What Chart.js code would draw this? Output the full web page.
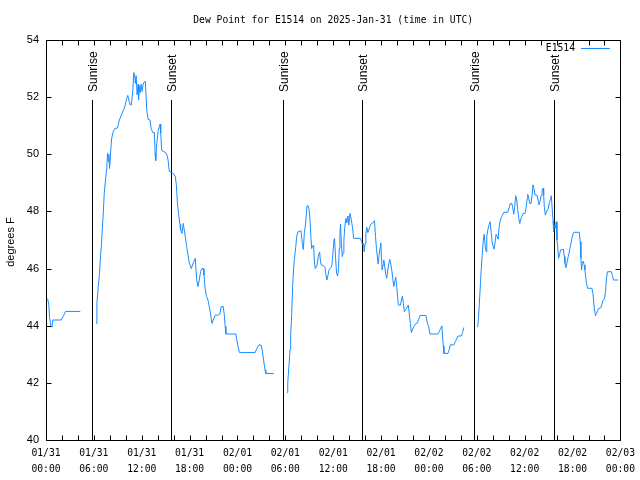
<!DOCTYPE html>
<html>
<head>
<meta charset="utf-8">
<title>Dew Point for E1514</title>
<script src="https://cdn.jsdelivr.net/npm/chart.js"></script>
<style>
    html, body { margin: 0; padding: 0; background: #fff; }
    canvas { display: block; }
</style>
<script>
    // hours since 2025-01-31 00:00 UTC, dew point in degrees F
    const hoursA = [0.2, 0.35, 0.45, 0.6, 0.75, 0.85, 1.9, 2.2, 2.45, 4.3];
    const dewA = [44.95, 44.75, 44.3, 44.0, 43.95, 44.2, 44.2, 44.35, 44.5, 44.5];

    const hoursB = [6.3, 6.38, 6.55, 6.71, 6.8, 6.96, 7.05, 7.2, 7.3, 7.46, 7.63, 7.71, 7.8, 7.88, 7.96, 8.05, 8.2, 8.38, 8.63, 8.96,
        9.2, 9.46, 9.71, 9.88, 10.13, 10.25, 10.38, 10.55, 10.7, 10.88, 11.0, 11.1, 11.2, 11.3, 11.42, 11.55, 11.6, 11.7, 11.8, 11.92,
        12.05, 12.17, 12.34, 12.45, 12.63, 12.8, 13.05, 13.17, 13.38, 13.59, 13.67, 13.75, 13.88, 14.05, 14.2, 14.3, 14.38, 14.5, 14.7, 14.96,
        15.17, 15.3, 15.46, 15.7, 15.96, 16.2, 16.34, 16.46, 16.63, 16.8, 16.88, 17.05, 17.21, 17.3, 17.46, 17.63, 17.8, 17.96, 18.21, 18.46,
        18.71, 18.88, 19.05, 19.21, 19.38, 19.55, 19.71, 19.8, 19.96, 20.13, 20.3, 20.46, 20.63, 20.8, 20.96, 21.21, 21.55, 21.8, 21.96, 22.21,
        22.34, 22.46, 22.55, 23.8, 23.92, 24.09, 24.25, 26.21, 26.38, 26.55, 26.71, 26.96, 27.13, 27.3, 27.46, 27.55, 28.55];
    const dewB = [44.08, 44.78, 45.37, 45.83, 46.3, 46.88, 47.35, 48.05, 48.63, 49.1, 49.57, 50.03, 49.75, 50.0, 49.5, 49.8, 50.5, 50.76, 50.9, 50.92,
        51.2, 51.38, 51.55, 51.67, 51.96, 52.06, 51.9, 51.73, 51.73, 52.25, 52.86, 52.8, 52.48, 52.75, 52.08, 52.45, 51.9, 52.4, 52.15, 52.45,
        52.2, 52.45, 52.54, 52.55, 51.55, 51.22, 51.2, 50.91, 50.76, 50.76, 50.03, 49.78, 50.38, 50.8, 50.97, 51.06, 50.74, 50.13, 50.1, 50.07,
        49.97, 49.8, 49.4, 49.37, 49.33, 49.23, 48.93, 48.34, 47.88, 47.55, 47.35, 47.23, 47.58, 47.4, 47.12, 46.77, 46.48, 46.2, 46.0, 46.2,
        46.36, 45.63, 45.37, 45.6, 45.9, 46.0, 46.0, 45.77, 45.27, 45.02, 44.9, 44.67, 44.41, 44.08, 44.2, 44.37, 44.37, 44.41, 44.67, 44.67,
        44.4, 43.97, 43.71, 43.71, 43.5, 43.25, 43.06, 43.06, 43.17, 43.27, 43.33, 43.32, 43.1, 42.74, 42.45, 42.33, 42.33];

    const hoursC = [30.21, 30.3, 30.46, 30.59, 30.67, 30.8, 30.92, 31.05, 31.17, 31.3, 31.42, 31.59, 31.8, 31.96, 32.13, 32.25, 32.38, 32.55, 32.71, 32.84,
        32.96, 33.09, 33.21, 33.3, 33.42, 33.55, 33.63, 33.75, 33.96, 34.13, 34.3, 34.38, 34.5, 34.8, 34.96, 35.09, 35.21, 35.34, 35.5, 35.71,
        35.84, 35.96, 36.09, 36.17, 36.3, 36.42, 36.55, 36.67, 36.75, 36.84, 36.92, 37.0, 37.13, 37.25, 37.34, 37.46, 37.59, 37.71, 37.84, 37.96,
        38.09, 38.21, 38.34, 38.46, 38.55, 39.42, 39.55, 39.67, 39.8, 39.88, 40.0, 40.09, 40.21, 40.34, 40.46, 40.59, 40.8, 41.0, 41.17, 41.3,
        41.42, 41.55, 41.63, 41.75, 41.88, 41.96, 42.05, 42.13, 42.25, 42.34, 42.46, 42.59, 42.71, 42.84, 42.96, 43.09, 43.21, 43.34, 43.46, 43.59,
        43.71, 43.84, 43.96, 44.09, 44.17, 44.42, 44.55, 44.67, 44.8, 44.92, 45.09, 45.25, 45.42, 45.55, 45.67, 45.8, 45.92, 46.09, 46.25, 46.5,
        46.71, 46.88, 47.63, 47.8, 47.96, 48.13, 49.13, 49.3, 49.46, 49.63, 49.71, 49.8, 49.88, 50.38, 50.55, 50.67, 51.13, 51.3, 51.46, 51.63,
        52.05, 52.21, 52.38];
    const dewC = [41.66, 42.0, 42.63, 43.17, 43.67, 44.43, 45.43, 46.07, 46.42, 46.74, 47.12, 47.29, 47.3, 47.33, 46.88, 46.67, 47.23, 47.6, 48.19, 48.2,
        48.1, 47.72, 47.06, 46.7, 46.8, 46.8, 46.3, 46.0, 46.1, 46.42, 46.58, 46.3, 46.13, 46.1, 46.04, 45.78, 45.6, 45.76, 45.97, 46.03,
        46.13, 46.53, 47.0, 47.05, 46.36, 45.85, 45.74, 46.0, 46.7, 47.23, 47.56, 47.0, 46.42, 46.55, 47.0, 47.47, 47.76, 47.6, 47.84, 47.52,
        47.93, 47.8, 47.58, 47.35, 47.06, 47.06, 46.95, 46.83, 46.88, 46.59, 46.88, 47.21, 47.44, 47.26, 47.35, 47.47, 47.58, 47.6, 47.68, 47.12,
        46.71, 46.36, 46.16, 46.46, 46.74, 46.9, 46.4, 45.95, 46.13, 46.3, 46.05, 45.78, 45.66, 45.95, 46.16, 46.32, 46.16, 45.95, 45.66, 45.37,
        45.55, 45.7, 45.37, 44.96, 44.72, 44.72, 44.9, 45.03, 44.78, 44.49, 44.57, 44.64, 44.72, 44.37, 44.08, 43.76, 43.85, 43.96, 44.05, 44.08,
        44.22, 44.36, 44.36, 44.1, 43.97, 43.71, 43.71, 43.8, 43.91, 43.99, 43.6, 43.29, 43.03, 43.03, 43.17, 43.33, 43.33, 43.44, 43.53, 43.64,
        43.64, 43.76, 43.94];

    const hoursD = [54.1, 54.21, 54.34, 54.46, 54.55, 54.67, 54.8, 54.92, 55.05, 55.17, 55.25, 55.42, 55.55, 55.67, 55.8, 55.92, 56.05, 56.17, 56.3, 56.42,
        56.55, 56.67, 56.8, 56.92, 57.05, 57.17, 57.38, 57.88, 58.05, 58.21, 58.38, 58.5, 58.63, 58.75, 58.88, 59.0, 59.13, 59.25, 59.38, 59.5,
        59.63, 59.8, 60.05, 60.17, 60.3, 60.38, 60.5, 60.63, 60.8, 60.92, 61.05, 61.17, 61.3, 61.55, 61.67, 61.8, 61.92, 62.05, 62.17, 62.3,
        62.38, 62.46, 62.59, 62.71, 62.84, 62.96, 63.09, 63.21, 63.34, 63.46, 63.55, 63.63, 63.71, 63.84, 63.96, 64.05, 64.13, 64.25, 64.38, 64.5,
        64.84, 64.96, 65.05, 65.17, 65.3, 65.42, 65.55, 65.67, 65.8, 65.92, 66.05, 66.17, 66.84, 66.96, 67.05, 67.13, 67.21, 67.34, 67.46, 67.55,
        67.67, 67.75, 67.88, 68.42, 68.55, 68.63, 68.75, 68.88, 69.0, 69.13, 69.25, 69.55, 69.67, 69.84, 70.0, 70.13, 70.25, 70.38, 70.88, 71.0,
        71.13, 71.71];
    const dewD = [43.95, 44.26, 44.9, 45.48, 45.95, 46.47, 46.96, 47.2, 46.78, 46.59, 47.12, 47.41, 47.55, 47.64, 47.27, 46.94, 46.78, 46.68, 46.94, 47.2,
        47.12, 47.03, 47.47, 47.66, 47.78, 47.85, 47.97, 47.97, 48.13, 48.28, 48.28, 48.13, 47.9, 48.17, 48.55, 48.4, 48.07, 47.78, 47.58, 47.7,
        47.82, 47.93, 47.93, 48.1, 48.43, 48.6, 48.48, 48.28, 48.28, 48.55, 48.93, 48.79, 48.57, 48.57, 48.4, 48.23, 48.35, 48.55, 48.69, 48.81,
        48.57, 48.17, 47.87, 47.97, 48.05, 48.1, 48.32, 48.4, 48.55, 48.05, 47.67, 47.29, 47.53, 47.41, 47.64, 47.0, 46.77, 46.36, 46.5, 46.65,
        46.68, 46.42, 46.18, 46.03, 46.2, 46.38, 46.53, 46.71, 46.88, 47.06, 47.2, 47.27, 47.27, 46.94, 46.36, 45.95, 46.18, 46.26, 46.12, 45.95,
        45.66, 45.48, 45.31, 45.31, 45.14, 44.9, 44.55, 44.35, 44.43, 44.52, 44.6, 44.63, 44.73, 44.9, 44.93, 45.19, 45.66, 45.89, 45.89, 45.75,
        45.6, 45.6];

    // sunrise / sunset markers, hours since start
    const sunTimes = [5.78, 15.65, 29.65, 39.65, 53.65, 63.65];
    const sunLabels = ['Sunrise', 'Sunset', 'Sunrise', 'Sunset', 'Sunrise', 'Sunset'];

    // x tick labels every 6 hours
    const tickDates = ['01/31', '01/31', '01/31', '01/31', '02/01', '02/01', '02/01', '02/01', '02/02', '02/02', '02/02', '02/02', '02/03'];
    const tickTimes = ['00:00', '06:00', '12:00', '18:00', '00:00', '06:00', '12:00', '18:00', '00:00', '06:00', '12:00', '18:00', '00:00'];

    const MONO = '"DejaVu Sans Mono", monospace';
    const SANS = '"Liberation Sans", Arial, sans-serif';

    function buildPoints() {
        const segs = [[hoursA, dewA], [hoursB, dewB], [hoursC, dewC], [hoursD, dewD]];
        const pts = [];
        segs.forEach(function(s, i) {
            if (i > 0) {
                // break the line between segments
                pts.push({x: (pts[pts.length - 1].x + s[0][0]) / 2, y: null});
            }
            for (let k = 0; k < s[0].length; k++) {
                pts.push({x: s[0][k], y: s[1][k]});
            }
        });
        return pts;
    }

    const gnuplotFrame = {
        id: 'gnuplotFrame',
        beforeDatasetsDraw(chart) {
            const ctx = chart.ctx;
            const a = chart.chartArea;
            const xs = chart.scales.x;
            ctx.save();
            ctx.strokeStyle = '#000';
            ctx.lineWidth = 1;
            const lineTop = a.bottom - 0.85 * (a.bottom - a.top);
            const textStart = a.bottom - 0.87 * (a.bottom - a.top);
            ctx.font = '12px ' + SANS;
            ctx.fillStyle = '#000';
            sunTimes.forEach(function(t, i) {
                const px = Math.round(xs.getPixelForValue(t)) + 0.5;
                ctx.beginPath();
                ctx.moveTo(px, a.bottom);
                ctx.lineTo(px, lineTop);
                ctx.stroke();
                ctx.save();
                ctx.translate(px + 1, textStart);
                ctx.rotate(-Math.PI / 2);
                ctx.textAlign = 'left';
                ctx.textBaseline = 'middle';
                ctx.fillText(sunLabels[i], 0, 0);
                ctx.restore();
            });
            ctx.restore();
        },
        afterDraw(chart) {
            const ctx = chart.ctx;
            const a = chart.chartArea;
            const xs = chart.scales.x;
            const ys = chart.scales.y;
            const L = Math.round(a.left) + 0.5, R = Math.round(a.right) + 0.5;
            const T = Math.round(a.top) + 0.5, B = Math.round(a.bottom) + 0.5;
            ctx.save();
            ctx.strokeStyle = '#000';
            ctx.lineWidth = 1;
            ctx.strokeRect(L, T, R - L, B - T);

            ctx.beginPath();
            for (let h = xs.min; h <= xs.max; h += 2) {
                const px = Math.round(xs.getPixelForValue(h)) + 0.5;
                const len = 5;
                ctx.moveTo(px, B); ctx.lineTo(px, B - len);
                ctx.moveTo(px, T); ctx.lineTo(px, T + len);
            }
            for (let v = ys.min; v <= ys.max; v += 2) {
                const py = Math.round(ys.getPixelForValue(v)) + 0.5;
                ctx.moveTo(L, py); ctx.lineTo(L + 5, py);
                ctx.moveTo(R, py); ctx.lineTo(R - 5, py);
            }
            ctx.stroke();

            // title
            ctx.fillStyle = '#000';
            ctx.font = '9.7px ' + MONO;
            ctx.textAlign = 'center';
            ctx.textBaseline = 'middle';
            ctx.fillText('Dew Point for E1514 on 2025-Jan-31 (time in UTC)', (a.left + a.right) / 2, 20);

            // y axis label
            ctx.save();
            ctx.font = '11px ' + SANS;
            ctx.translate(11, (a.top + a.bottom) / 2 + 2);
            ctx.rotate(-Math.PI / 2);
            ctx.fillText('degrees F', 0, 0);
            ctx.restore();

            // key
            const ds = chart.data.datasets[0];
            ctx.font = '9.7px ' + MONO;
            ctx.textAlign = 'right';
            ctx.fillText(ds.label, 575, 48);
            ctx.strokeStyle = ds.borderColor;
            ctx.beginPath();
            ctx.moveTo(581, 48.5);
            ctx.lineTo(610, 48.5);
            ctx.stroke();
            ctx.restore();
        }
    };

    document.addEventListener('DOMContentLoaded', function() {
        const ctx = document.getElementById('chart').getContext('2d');
        new Chart(ctx, {
            type: 'line',
            data: {
                datasets: [{
                    label: 'E1514',
                    data: buildPoints(),
                    borderColor: '#1a8cff',
                    borderWidth: 1,
                    pointRadius: 0,
                    tension: 0,
                    spanGaps: false,
                    fill: false
                }]
            },
            options: {
                responsive: false,
                animation: false,
                devicePixelRatio: 1,
                layout: { padding: { top: 40, right: 19, left: 0, bottom: 0 } },
                plugins: {
                    legend: { display: false },
                    title: { display: false },
                    tooltip: { enabled: false }
                },
                scales: {
                    x: {
                        type: 'linear',
                        min: 0,
                        max: 72,
                        afterFit: function(s) { s.height = 40; },
                        grid: { display: false, drawTicks: false },
                        border: { display: false },
                        ticks: {
                            stepSize: 6,
                            autoSkip: false,
                            maxRotation: 0,
                            padding: 5,
                            color: '#000',
                            font: { family: MONO, size: 9.7, lineHeight: '16px' },
                            callback: function(v) {
                                const i = Math.round(v / 6);
                                return [tickDates[i], tickTimes[i]];
                            }
                        }
                    },
                    y: {
                        min: 40,
                        max: 54,
                        afterFit: function(s) { s.width = 46; },
                        grid: { display: false, drawTicks: false },
                        border: { display: false },
                        ticks: {
                            stepSize: 2,
                            padding: 7,
                            color: '#000',
                            font: { family: SANS, size: 11 }
                        }
                    }
                }
            },
            plugins: [gnuplotFrame]
        });
    });
</script>
</head>
<body>
    <canvas id="chart" width="640" height="480"></canvas>
</body>
</html>
